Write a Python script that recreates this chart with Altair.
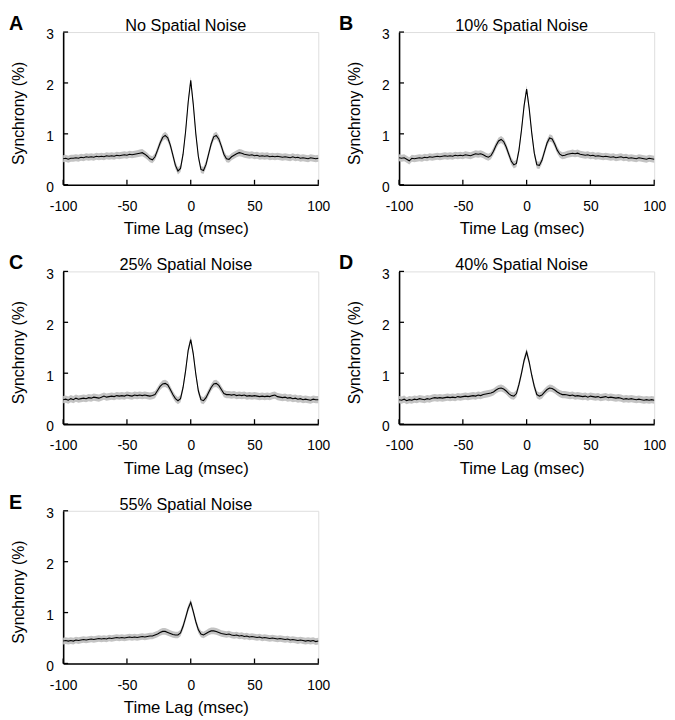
import altair as alt
import pandas as pd

# ---------------- data ----------------
lags = list(range(-100, 101, 2))

vals_a = [0.51, 0.52, 0.50, 0.52, 0.52, 0.53, 0.52, 0.54, 0.53, 0.55,
          0.54, 0.55, 0.54, 0.56, 0.55, 0.56, 0.55, 0.57, 0.56, 0.57,
          0.56, 0.58, 0.57, 0.58, 0.59, 0.58, 0.60, 0.59, 0.60, 0.61,
          0.62, 0.63, 0.60, 0.56, 0.51, 0.49, 0.55, 0.68, 0.82, 0.93,
          0.97, 0.92, 0.78, 0.58, 0.38, 0.27, 0.32, 0.60, 1.05, 1.62,
          2.05,
          1.58, 1.00, 0.55, 0.30, 0.28, 0.40, 0.60, 0.80, 0.94, 0.97,
          0.90, 0.76, 0.60, 0.51, 0.50, 0.55, 0.58, 0.61, 0.63, 0.62,
          0.60, 0.59, 0.58, 0.59, 0.57, 0.58, 0.56, 0.57, 0.56, 0.57,
          0.55, 0.56, 0.55, 0.56, 0.55, 0.54, 0.55, 0.54, 0.53, 0.55,
          0.53, 0.54, 0.52, 0.53, 0.52, 0.51, 0.53, 0.52, 0.51, 0.52]

vals_b = [0.53, 0.52, 0.53, 0.50, 0.47, 0.52, 0.51, 0.52, 0.53, 0.52,
          0.54, 0.53, 0.55, 0.54, 0.55, 0.56, 0.55, 0.56, 0.57, 0.56,
          0.57, 0.56, 0.58, 0.57, 0.58, 0.57, 0.59, 0.58, 0.57, 0.59,
          0.61, 0.60, 0.61, 0.59, 0.56, 0.54, 0.57, 0.66, 0.77, 0.86,
          0.89, 0.85, 0.74, 0.60, 0.46, 0.39, 0.42, 0.68, 1.08, 1.55,
          1.88,
          1.50, 1.02, 0.62, 0.39, 0.38, 0.48, 0.65, 0.82, 0.92, 0.90,
          0.80, 0.68, 0.60, 0.57, 0.58, 0.60, 0.61, 0.62, 0.61, 0.62,
          0.60, 0.59, 0.58, 0.59, 0.57, 0.58, 0.56, 0.57, 0.56, 0.55,
          0.56, 0.55, 0.54, 0.55, 0.53, 0.54, 0.55, 0.53, 0.54, 0.52,
          0.53, 0.52, 0.51, 0.53, 0.52, 0.51, 0.50, 0.52, 0.51, 0.50]

vals_c = [0.48, 0.49, 0.47, 0.50, 0.48, 0.51, 0.49, 0.50, 0.51, 0.50,
          0.52, 0.51, 0.53, 0.52, 0.51, 0.53, 0.55, 0.53, 0.54, 0.55,
          0.54, 0.56, 0.55, 0.56, 0.55, 0.57, 0.56, 0.55, 0.57, 0.56,
          0.57, 0.56, 0.57, 0.56, 0.55, 0.56, 0.58, 0.66, 0.74, 0.79,
          0.80, 0.77, 0.68, 0.58, 0.50, 0.46, 0.50, 0.72, 1.05, 1.45,
          1.66,
          1.38, 0.98, 0.65, 0.48, 0.46, 0.52, 0.62, 0.72, 0.79, 0.80,
          0.76, 0.68, 0.60, 0.58, 0.58, 0.57, 0.58, 0.56, 0.57, 0.56,
          0.57, 0.55, 0.56, 0.55, 0.56, 0.55, 0.54, 0.55, 0.54, 0.55,
          0.54, 0.56, 0.57, 0.54, 0.53, 0.52, 0.53, 0.51, 0.52, 0.50,
          0.51, 0.49, 0.50, 0.48, 0.49, 0.48, 0.47, 0.49, 0.48, 0.48]

vals_d = [0.48, 0.47, 0.49, 0.46, 0.48, 0.47, 0.49, 0.48, 0.50, 0.49,
          0.48, 0.50, 0.49, 0.51, 0.52, 0.51, 0.52, 0.51, 0.52, 0.53,
          0.52, 0.53, 0.52, 0.54, 0.53, 0.54, 0.55, 0.54, 0.55, 0.56,
          0.55, 0.57, 0.56, 0.58, 0.59, 0.60, 0.61, 0.63, 0.67, 0.70,
          0.71, 0.69, 0.65, 0.60, 0.56, 0.55, 0.60, 0.78, 1.00, 1.25,
          1.42,
          1.22, 0.96, 0.74, 0.58, 0.55, 0.57, 0.63, 0.68, 0.71, 0.70,
          0.67, 0.63, 0.60, 0.58, 0.58, 0.57, 0.56, 0.57, 0.55, 0.56,
          0.55, 0.54, 0.55, 0.53, 0.55, 0.54, 0.53, 0.54, 0.52, 0.53,
          0.54, 0.52, 0.53, 0.52, 0.51, 0.52, 0.51, 0.49, 0.50, 0.49,
          0.50, 0.49, 0.48, 0.49, 0.48, 0.47, 0.48, 0.47, 0.48, 0.47]

vals_e = [0.44, 0.45, 0.44, 0.45, 0.44, 0.46, 0.45, 0.46, 0.47, 0.46,
          0.47, 0.48, 0.47, 0.48, 0.49, 0.48, 0.49, 0.48, 0.50, 0.49,
          0.50, 0.51, 0.50, 0.51, 0.50, 0.51, 0.52, 0.51, 0.52, 0.51,
          0.52, 0.53, 0.52, 0.53, 0.54, 0.54, 0.56, 0.58, 0.61, 0.63,
          0.63, 0.61, 0.59, 0.57, 0.56, 0.56, 0.60, 0.73, 0.90, 1.08,
          1.20,
          1.02, 0.82, 0.66, 0.58, 0.56, 0.59, 0.62, 0.64, 0.64, 0.63,
          0.61, 0.59, 0.58, 0.57, 0.58, 0.56, 0.55, 0.56, 0.54, 0.55,
          0.53, 0.54, 0.52, 0.53, 0.52, 0.51, 0.52, 0.50, 0.51, 0.50,
          0.49, 0.50, 0.49, 0.48, 0.49, 0.48, 0.47, 0.48, 0.46, 0.47,
          0.46, 0.45, 0.46, 0.45, 0.44, 0.45, 0.44, 0.45, 0.43, 0.44]

series = [vals_a, vals_b, vals_c, vals_d, vals_e]
titles = ["No Spatial Noise", "10% Spatial Noise", "25% Spatial Noise",
          "40% Spatial Noise", "55% Spatial Noise"]
letters = ["A", "B", "C", "D", "E"]
sem = [0.07, 0.07, 0.07, 0.07, 0.065]
x_ticks = [-100, -50, 0, 50, 100]
y_ticks = [0, 1, 2, 3]

# ---------------- layout / style ----------------
W, H = 259, 155
FONT = "Liberation Sans"

xscale = alt.Scale(domain=[-100, 100], nice=False, zero=False)
yscale = alt.Scale(domain=[0, 3], nice=False, zero=False)

xaxis = alt.Axis(values=x_ticks, title="Time Lag (msec)", ticks=False, grid=False,
                 domainColor="black", domainWidth=1.6, labelFont=FONT,
                 labelFontSize=14, labelColor="black", labelPadding=15,
                 labelFlush=False, labelOverlap=False,
                 labelExpr="'' + datum.value",
                 titleFont=FONT, titleFontSize=17, titleFontWeight="normal",
                 titleColor="black", titleY=50, titleX=W / 2 - 5,
                 titleBaseline="alphabetic")
yaxis = alt.Axis(values=y_ticks, title="Synchrony (%)", ticks=False, grid=False,
                 domainColor="black", domainWidth=1.6, labelFont=FONT,
                 labelFontSize=14, labelColor="black", labelPadding=10,
                 labelFlush=False, labelOverlap=False, labelOffset=3,
                 labelExpr="'' + datum.value",
                 titleFont=FONT, titleFontSize=16, titleFontWeight="normal",
                 titleColor="black", titleX=-40, titleY=82,
                 titleBaseline="alphabetic")


def panel(vals, title, letter, s, left_col):
    df = pd.DataFrame({"lag": lags, "v": vals})
    df["lo"] = df["v"] - s
    df["hi"] = df["v"] + s
    base = alt.Chart(df)
    X = alt.X("lag:Q", scale=xscale, axis=xaxis)
    band = base.mark_area(color="#c3c3c3", opacity=1).encode(
        x=X, y=alt.Y("lo:Q", scale=yscale, axis=yaxis), y2="hi:Q")
    line = base.mark_line(color="black", strokeWidth=1.1).encode(
        x=X, y=alt.Y("v:Q", scale=yscale, axis=yaxis))
    xt = alt.Chart(pd.DataFrame({"lag": x_ticks})).mark_rule(
        color="black", strokeWidth=1.3).encode(
        x=X, y=alt.value(H), y2=alt.value(H - 5))
    yt = alt.Chart(pd.DataFrame({"v": y_ticks})).mark_rule(
        color="black", strokeWidth=1.3).encode(
        y=alt.Y("v:Q", scale=yscale, axis=yaxis), x=alt.value(0), x2=alt.value(5))
    ttl = alt.Chart(pd.DataFrame({"t": [title]})).mark_text(
        font=FONT, fontSize=16.5, color="black", align="center",
        baseline="alphabetic").encode(
        text="t:N", x=alt.value(W / 2 - 5), y=alt.value(-1))
    let = alt.Chart(pd.DataFrame({"t": [letter]})).mark_text(
        font=FONT, fontSize=20, fontWeight="bold", color="black", align="left",
        baseline="alphabetic").encode(
        text="t:N", x=alt.value(-55 if left_col else -61), y=alt.value(-2))
    return alt.layer(band, line, xt, yt, ttl, let).properties(width=W, height=H)


panels = [panel(series[i], titles[i], letters[i], sem[i], i % 2 == 0)
          for i in range(5)]

chart = alt.concat(*panels, columns=2, spacing={"row": 88, "column": 82},
                   bounds="flush").properties(padding=0).configure_view(
    stroke=None).configure(background="white")

chart.save("out.html", embed_options={"renderer": "svg", "actions": False})
